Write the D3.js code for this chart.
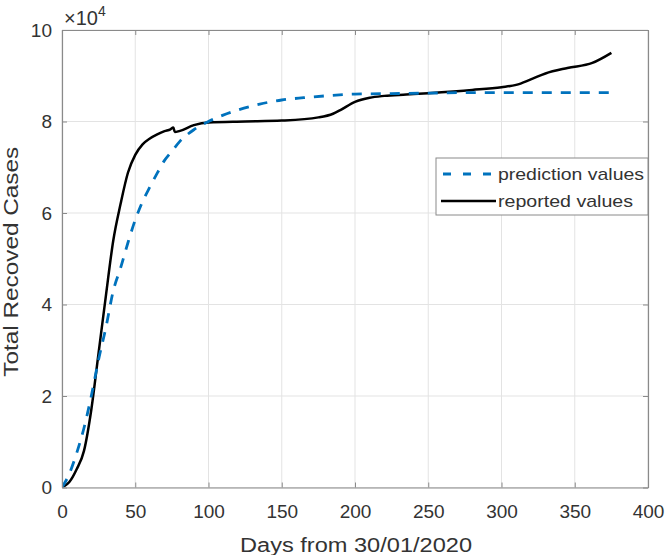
<!DOCTYPE html>
<html><head><meta charset="utf-8">
<script src="https://cdn.jsdelivr.net/npm/d3@7"></script>
<style>
body{margin:0;background:#fff;}
svg{display:block;font-family:"Liberation Sans",Arial,Helvetica,sans-serif;}
</style></head>
<body><svg id="c" width="666" height="555"></svg>
<script>
// Data (values in units of 10^4)
const predDays = [0,5,10,15,20,25,30,35,40,45,50,55,60,65,70,75,80,90,100,110,120,135,150,165,180,200,225,250,275,300,325,350,375];
const predVals = [0,0.3,0.75,1.3,2.0,2.8,3.5,4.3,4.8,5.35,5.85,6.25,6.57,6.87,7.15,7.35,7.55,7.82,8.0,8.14,8.25,8.38,8.47,8.52,8.56,8.6,8.61,8.62,8.63,8.63,8.63,8.63,8.63];
const repDays = [0,5,10,15,20,25,30,35,40,45,50,55,60,65,70,74,76,77,80,90,100,125,150,175,185,190,200,210,220,235,250,280,300,310,320,330,345,362,375];
const repVals = [0,0.12,0.4,0.8,1.7,2.95,4.2,5.4,6.2,6.88,7.27,7.5,7.63,7.72,7.79,7.83,7.87,7.77,7.79,7.92,7.98,8.0,8.02,8.09,8.17,8.25,8.43,8.52,8.56,8.59,8.62,8.69,8.75,8.8,8.92,9.05,9.17,9.28,9.5];
const xTicks = [0,50,100,150,200,250,300,350,400];
const yTicks = [0,2,4,6,8,10];
const seriesNames = ["prediction values","reported values"];

const svg = d3.select("#c");
const L=62, R=648, T=30, B=487.5;
const x = d3.scaleLinear().domain([0,400]).range([L,R]);
const y = d3.scaleLinear().domain([0,10]).range([B,T]);
const textCol="#333";

// grid
const g = svg.append("g");
g.selectAll(".gx").data(xTicks).enter().append("line")
  .attr("x1",d=>x(d)).attr("x2",d=>x(d)).attr("y1",T).attr("y2",B)
  .attr("stroke","#e3e3e3").attr("stroke-width",1);
g.selectAll(".gy").data(yTicks).enter().append("line")
  .attr("y1",d=>y(d)).attr("y2",d=>y(d)).attr("x1",L).attr("x2",R)
  .attr("stroke","#e3e3e3").attr("stroke-width",1);

// lines
svg.append("clipPath").attr("id","clp").append("rect")
  .attr("x",L).attr("y",T).attr("width",R-L).attr("height",B-T);
const line = d3.line().x(d=>x(d[0])).y(d=>y(d[1])).curve(d3.curveMonotoneX);
svg.append("path").datum(repDays.map((d,i)=>[d,repVals[i]]))
  .attr("d",line).attr("fill","none").attr("stroke","#000").attr("stroke-width",2.5)
  .attr("clip-path","url(#clp)");
svg.append("path").datum(predDays.map((d,i)=>[d,predVals[i]]))
  .attr("d",line).attr("fill","none").attr("stroke","#0072BD").attr("stroke-width",2.8)
  .attr("stroke-dasharray","10,9").attr("clip-path","url(#clp)");

// axes
const ax = d3.axisBottom(x).tickValues(xTicks).tickSize(-5).tickPadding(17).tickSizeOuter(0);
const ay = d3.axisLeft(y).tickValues(yTicks).tickSize(-5).tickPadding(10).tickSizeOuter(0);
const axT = d3.axisTop(x).tickValues(xTicks).tickSize(-5).tickFormat("").tickSizeOuter(0);
const ayR = d3.axisRight(y).tickValues(yTicks).tickSize(-5).tickFormat("").tickSizeOuter(0);
function style(sel){
  sel.select(".domain").attr("stroke","#8a8a8a").attr("stroke-width",1.2);
  sel.selectAll(".tick line").attr("stroke","#8a8a8a");
  sel.selectAll("text").attr("fill",textCol).attr("font-size",19).attr("font-family","Liberation Sans,Arial,sans-serif");
}
svg.append("g").attr("transform",`translate(0,${B})`).call(ax).call(style);
svg.append("g").attr("transform",`translate(${L},0)`).call(ay).call(style);
svg.append("g").attr("transform",`translate(0,${T})`).call(axT).call(style);
svg.append("g").attr("transform",`translate(${R},0)`).call(ayR).call(style);

// exponent
const ex = svg.append("text").attr("x",64).attr("y",25).attr("fill",textCol).attr("font-size",20);
ex.append("tspan").text("×10");
ex.append("tspan").attr("font-size",14).attr("dy",-9).text("4");

// axis labels
svg.append("text").attr("x",(L+R)/2+1).attr("y",552).attr("text-anchor","middle")
  .attr("fill",textCol).attr("font-size",20).attr("textLength",232).attr("lengthAdjust","spacingAndGlyphs")
  .text("Days from 30/01/2020");
svg.append("text").attr("transform",`translate(18,${(T+B)/2+3}) rotate(-90)`).attr("text-anchor","middle")
  .attr("fill",textCol).attr("font-size",20).attr("textLength",230).attr("lengthAdjust","spacingAndGlyphs")
  .text("Total Recoved Cases");

// legend
const lg = svg.append("g");
lg.append("rect").attr("x",436).attr("y",158).attr("width",212).attr("height",57)
  .attr("fill","#fff").attr("stroke","#8a8a8a").attr("stroke-width",1);
const rows=[174,201];
const widths=[146,135];
lg.append("line").attr("x1",441).attr("x2",496).attr("y1",rows[0]).attr("y2",rows[0])
  .attr("stroke","#0072BD").attr("stroke-width",2.8).attr("stroke-dasharray","8,12").attr("stroke-dashoffset",-2);
lg.append("line").attr("x1",441).attr("x2",496).attr("y1",rows[1]).attr("y2",rows[1])
  .attr("stroke","#000").attr("stroke-width",2.5);
lg.selectAll(".lt").data(seriesNames).enter().append("text")
  .attr("x",498).attr("y",(d,i)=>rows[i]+6).attr("fill",textCol).attr("font-size",17)
  .attr("textLength",(d,i)=>widths[i]).attr("lengthAdjust","spacingAndGlyphs").text(d=>d);
</script></body></html>
